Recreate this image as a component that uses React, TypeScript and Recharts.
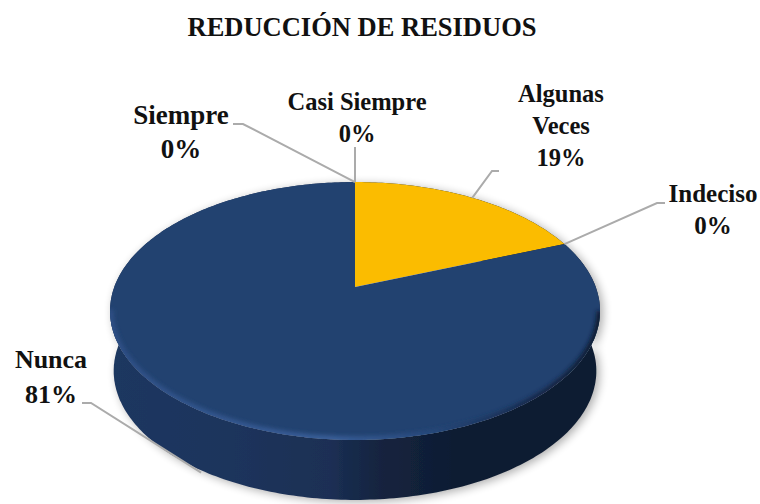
import React from 'react';
import { PieChart, Pie, Cell } from 'recharts';

const categories = ['Siempre', 'Casi Siempre', 'Algunas Veces', 'Indeciso', 'Nunca'];
const percentages = [0, 0, 19, 0, 81];
const sliceColors = ['#4472C4', '#ED7D31', '#FBBC00', '#A5A5A5', '#24426F'];

const chartData = categories.map((name, i) => ({ name, value: percentages[i] }));

// Placement of the label text and its leader line (not data)
type LabelLayout = {
    x: number;
    size: number;
    lines: string[];
    baselines: number[];
    leader: number[][];
    drop?: number[];
};
const labelLayouts: Record<string, LabelLayout> = {
    Siempre: { x: 181, size: 27, lines: ['Siempre'], baselines: [124, 158], leader: [[233, 124], [243, 124]] },
    'Casi Siempre': { x: 357, size: 24.5, lines: ['Casi Siempre'], baselines: [110, 142], leader: [[355, 147]] },
    'Algunas Veces': { x: 561, size: 24.5, lines: ['Algunas', 'Veces'], baselines: [102, 134, 166], leader: [[499, 171], [492, 171]] },
    Indeciso: { x: 713, size: 25, lines: ['Indeciso'], baselines: [202, 234], leader: [[665, 203], [657, 203]] },
    Nunca: { x: 51, size: 26, lines: ['Nunca'], baselines: [368, 403], leader: [[82, 403], [91, 403]], drop: [6, 64] },
};

const FONT = '"Liberation Serif", "Times New Roman", serif';
const DEPTH = 60;
const TILT = -0.186;

// Perspective projection of a point on the pie rim; theta runs clockwise from the top
const project = (theta: number, cx: number, cy: number, r: number, side = false) => {
    const u = Math.sin(theta);
    const v = -Math.cos(theta);
    const w = 1 + TILT * v;
    const scale = side ? 0.985 : 1;
    return [cx + (0.9825 * r * u * scale) / w, cy + (0.508 * r * v) / w + (side ? DEPTH : 0)];
};

const arcPoints = (props: any, side = false) => {
    const { cx, cy, outerRadius, startAngle, endAngle } = props;
    const pts: number[][] = [];
    const from = ((90 - startAngle) * Math.PI) / 180;
    const to = ((90 - endAngle) * Math.PI) / 180;
    const steps = Math.max(2, Math.ceil(Math.abs(to - from) * 60));
    for (let i = 0; i <= steps; i++) {
        pts.push(project(from + ((to - from) * i) / steps, cx, cy, outerRadius, side));
    }
    return pts;
};

const toPath = (pts: number[][], close = true) =>
    pts.map((p, i) => `${i ? 'L' : 'M'}${p[0].toFixed(1)} ${p[1].toFixed(1)}`).join(' ') + (close ? ' Z' : '');

const TopSlice = (props: any) => {
    if (props.startAngle === props.endAngle) return null;
    const arc = arcPoints(props);
    const outline = toPath([[props.cx, props.cy], ...arc]);
    const clipId = `face-${Math.round(props.startAngle)}`;
    // only the front of the rim catches the bevel
    const front = arc.filter((p) => p[1] > props.cy + 22);
    return (
        <g>
            <clipPath id={clipId}>
                <path d={outline} />
            </clipPath>
            <path d={outline} fill={props.fill} filter="url(#soft)" />
            {front.length > 1 && (
                <path
                    d={toPath(front, false)}
                    fill="none"
                    stroke="url(#rim)"
                    strokeWidth={7}
                    filter="url(#bevel)"
                    clipPath={`url(#${clipId})`}
                />
            )}
        </g>
    );
};

const SideSlice = (props: any) => {
    if (props.startAngle === props.endAngle) return null;
    const top = arcPoints(props);
    const bottom = arcPoints(props, true).reverse();
    const hull = toPath([...top, ...bottom]);
    return (
        <g>
            <path d={hull} fill="#000" opacity={0.32} filter="url(#shadow)" transform="translate(3 2)" />
            <path d={hull} fill="url(#side)" filter="url(#soft)" />
        </g>
    );
};

const renderLabel = (props: any) => {
    const { cx, cy, outerRadius, midAngle, name, value } = props;
    const layout = labelLayouts[name];
    if (!layout) return null;
    const anchor = project(((90 - midAngle) * Math.PI) / 180, cx, cy, outerRadius);
    const drop = layout.drop || [0, 0];
    const leader = [...layout.leader, [anchor[0] + drop[0], anchor[1] + drop[1]]];
    const rows = [...layout.lines, `${value}%`];
    return (
        <g key={name}>
            <polyline points={leader.map((p) => p.join(',')).join(' ')} fill="none" stroke="#ABABAB" strokeWidth={2} />
            {rows.map((row, i) => (
                <text
                    key={row}
                    x={layout.x}
                    y={layout.baselines[i]}
                    textAnchor="middle"
                    fontFamily={FONT}
                    fontWeight="bold"
                    fontSize={layout.size}
                    fill="#111"
                >
                    {row}
                </text>
            ))}
        </g>
    );
};

export default function App() {
    return (
        <div style={{ position: 'absolute', left: 0, top: 0, width: 760, height: 504 }}>
            <PieChart width={760} height={504} margin={{ top: 0, right: 0, bottom: 0, left: 0 }}>
                <defs>
                    <filter id="soft" x="-5%" y="-5%" width="110%" height="110%">
                        <feGaussianBlur stdDeviation="0.6" />
                    </filter>
                    <filter id="bevel" x="-10%" y="-10%" width="120%" height="120%">
                        <feGaussianBlur stdDeviation="2" />
                    </filter>
                    <filter id="shadow" x="-10%" y="-10%" width="120%" height="120%">
                        <feGaussianBlur stdDeviation="5" />
                    </filter>
                    <linearGradient id="side" gradientUnits="userSpaceOnUse" x1="110" y1="0" x2="600" y2="0">
                        <stop offset="0%" stopColor="#1F3760" />
                        <stop offset="25%" stopColor="#1E345C" />
                        <stop offset="45%" stopColor="#1B2F54" />
                        <stop offset="55%" stopColor="#14243F" />
                        <stop offset="70%" stopColor="#0F1C33" />
                        <stop offset="100%" stopColor="#0E1B31" />
                    </linearGradient>
                    <linearGradient id="rim" gradientUnits="userSpaceOnUse" x1="110" y1="0" x2="600" y2="0">
                        <stop offset="0%" stopColor="#2E4F85" />
                        <stop offset="45%" stopColor="#3A5F9A" />
                        <stop offset="65%" stopColor="#27497C" />
                        <stop offset="85%" stopColor="#16294C" />
                        <stop offset="100%" stopColor="#0E1B31" />
                    </linearGradient>
                </defs>
                <text
                    x={362}
                    y={36}
                    textAnchor="middle"
                    fontFamily={FONT}
                    fontWeight="bold"
                    fontSize={26.5}
                    fill="#111"
                >
                    REDUCCIÓN DE RESIDUOS
                </text>
                <Pie
                    data={chartData}
                    dataKey="value"
                    nameKey="name"
                    cx={355}
                    cy={287}
                    outerRadius={245}
                    startAngle={90}
                    endAngle={-270}
                    stroke="none"
                    label={false}
                    labelLine={false}
                    shape={SideSlice}
                    isAnimationActive={false}
                />
                <Pie
                    data={chartData}
                    dataKey="value"
                    nameKey="name"
                    cx={355}
                    cy={287}
                    outerRadius={245}
                    startAngle={90}
                    endAngle={-270}
                    stroke="none"
                    label={renderLabel}
                    labelLine={false}
                    shape={TopSlice}
                    isAnimationActive={false}
                >
                    {chartData.map((entry, index) => (
                        <Cell key={`cell-${index}`} fill={sliceColors[index]} />
                    ))}
                </Pie>
            </PieChart>
        </div>
    );
}
